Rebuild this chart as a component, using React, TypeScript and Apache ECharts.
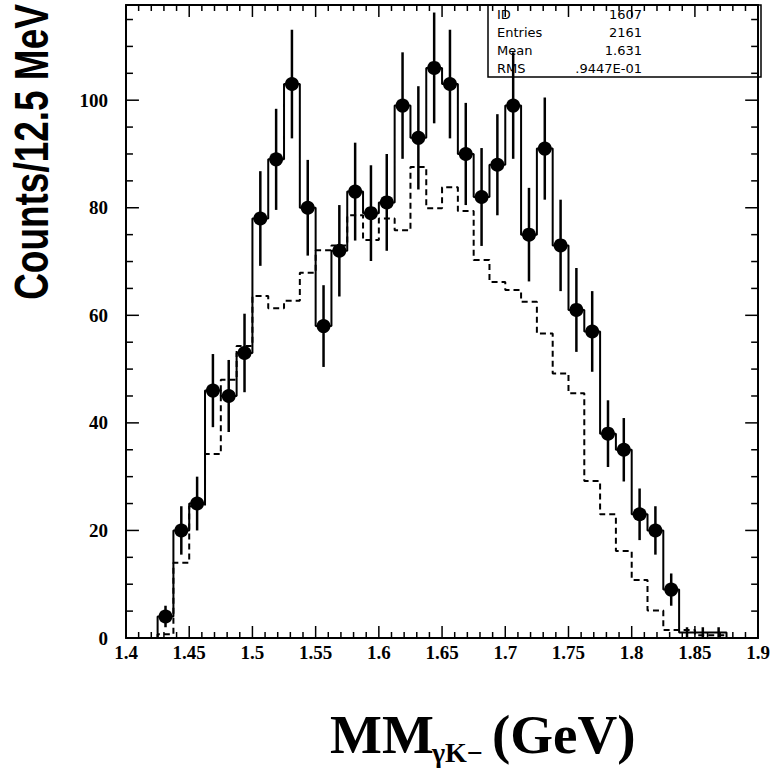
import React, { useEffect, useRef } from 'react';
import * as echarts from 'echarts';

// Histogram binning (GeV)
const BIN_START = 1.425;
const BIN_WIDTH = 0.0125;

// Data counts per 12.5 MeV bin (points with error bars, solid histogram)
const counts = [4, 20, 25, 46, 45, 53, 78, 89, 103, 80, 58, 72, 83, 79, 81, 99, 93, 106, 103, 90, 82, 88, 99, 75, 91, 73, 61, 57, 38, 35, 23, 20, 9, 1, 1, 1];
// Statistical errors of the counts
const errors = [2.0, 4.5, 5.0, 6.8, 6.7, 7.3, 8.8, 9.4, 10.1, 8.9, 7.6, 8.5, 9.1, 8.9, 9.0, 9.9, 9.6, 10.3, 10.1, 9.5, 9.1, 9.4, 9.9, 8.7, 9.5, 8.5, 7.8, 7.5, 6.2, 5.9, 4.8, 4.5, 3.0, 1.0, 1.0, 1.0];
// Dashed histogram (simulation)
const mcCounts = [0.7, 14, 24.5, 34.2, 48, 54.3, 63.6, 61.3, 62.7, 67.9, 72.1, 73, 78.6, 74, 78, 75.8, 87.6, 79.9, 83.8, 79.4, 70.3, 66.2, 64.7, 62.5, 56.6, 49.2, 45.5, 29.2, 23, 16.2, 10.8, 5.1, 1.5, 1.5, 0.5, 0.5];

// Axis ranges and tick spacing
const X_MIN = 1.4;
const X_MAX = 1.9;
const X_MAJOR = 0.05;
const X_MINOR_PER_MAJOR = 5;
const Y_MIN = 0;
const Y_MAX = 117.7;
const Y_MAJOR = 20;
const Y_MINOR_STEP = 5;

// Statistics box
const statLabels = ['ID', 'Entries', 'Mean', 'RMS'];
const statValues = ['1607', '2161', '1.631', '.9447E-01'];

const yTitle = 'Counts/12.5 MeV';
const xTitleMain = 'MM';
const xTitleSub = 'γK−';
const xTitleUnit = '(GeV)';

// layout (pixels)
const GRID_LEFT = 126;
const GRID_TOP = 5;
const GRID_W = 635;
const GRID_H = 633;
const X_TICK_MAJOR_PX = 12;
const X_TICK_MINOR_PX = 6;
const Y_TICK_MAJOR_PX = 13;
const Y_TICK_MINOR_PX = 7;

function stepPoints(vals: number[]): number[][] {
  const pts: number[][] = [[BIN_START, 0]];
  vals.forEach((v, i) => {
    const lo = BIN_START + i * BIN_WIDTH;
    pts.push([lo, v], [lo + BIN_WIDTH, v]);
  });
  pts.push([BIN_START + vals.length * BIN_WIDTH, 0]);
  return pts;
}

// inward tick segments expressed in axis units
const PX_PER_X = GRID_W / (X_MAX - X_MIN);
const PX_PER_Y = GRID_H / (Y_MAX - Y_MIN);

function xTickSegments(): number[][] {
  const out: number[][] = [];
  const nx = Math.round((X_MAX - X_MIN) / X_MAJOR) * X_MINOR_PER_MAJOR;
  for (let i = 0; i <= nx; i++) {
    const v = +(X_MIN + (i * X_MAJOR) / X_MINOR_PER_MAJOR).toFixed(4);
    const len = (i % X_MINOR_PER_MAJOR === 0 ? X_TICK_MAJOR_PX : X_TICK_MINOR_PX) / PX_PER_Y;
    out.push([v, Y_MIN, Y_MIN + len]);
    out.push([v, Y_MAX - len, Y_MAX]);
  }
  return out;
}

function yTickSegments(): number[][] {
  const out: number[][] = [];
  for (let v = Y_MIN; v < Y_MAX; v += Y_MINOR_STEP) {
    const len = (v % Y_MAJOR === 0 ? Y_TICK_MAJOR_PX : Y_TICK_MINOR_PX) / PX_PER_X;
    out.push([X_MIN, X_MIN + len, v]);
    out.push([X_MAX - len, X_MAX, v]);
  }
  return out;
}

const SERIF = '"Liberation Serif", "Times New Roman", serif';
const SANS = '"Liberation Sans", Arial, sans-serif';

export default function App() {
  const ref = useRef<HTMLDivElement>(null);

  useEffect(() => {
    document.body.style.margin = '0';
    if (!ref.current) return;
    const chart = echarts.init(ref.current, undefined, { renderer: 'svg' });

    const centers = counts.map((_, i) => BIN_START + (i + 0.5) * BIN_WIDTH);
    const errData = counts.map((c, i) => [centers[i], c - errors[i], c + errors[i]]);
    const pointData = counts
      .map((c, i) => [centers[i], c])
      .filter((p) => p[1] > 1);

    const xBase = {
      type: 'value',
      min: X_MIN,
      max: X_MAX,
      interval: X_MAJOR,
      axisLine: { show: true, onZero: false, lineStyle: { color: '#000', width: 2 } },
      axisTick: { show: false },
      minorTick: { show: false },
      splitLine: { show: false },
    };
    const yBase = {
      type: 'value',
      min: Y_MIN,
      max: Y_MAX,
      interval: Y_MAJOR,
      axisLine: { show: true, onZero: false, lineStyle: { color: '#000', width: 2 } },
      axisTick: { show: false },
      splitLine: { show: false },
    };

    const graphic: any[] = [
      {
        type: 'rect',
        z: 5,
        shape: { x: 488, y: 5, width: 273, height: 72 },
        style: { fill: 'none', stroke: '#000', lineWidth: 1.5 },
      },
    ];
    statLabels.forEach((l, i) => {
      const y = 14 + i * 18.3;
      graphic.push({
        type: 'text',
        x: 497,
        y,
        z: 10,
        style: { text: l, fontFamily: '"DejaVu Sans", sans-serif', fontSize: 13, fill: '#000', align: 'left', verticalAlign: 'middle' },
      });
      graphic.push({
        type: 'text',
        x: 642,
        y,
        z: 10,
        style: { text: statValues[i], fontFamily: '"DejaVu Sans", sans-serif', fontSize: 13, fill: '#000', align: 'right', verticalAlign: 'middle' },
      });
    });
    graphic.push(
      {
        type: 'text',
        x: 31,
        y: 152,
        rotation: Math.PI / 2,
        scaleX: 0.77,
        style: { text: yTitle, fontFamily: SANS, fontWeight: 'bold', fontSize: 48, fill: '#000', align: 'center', verticalAlign: 'middle' },
      },
      {
        type: 'text',
        x: 330,
        y: 734,
        style: { text: xTitleMain, fontFamily: SERIF, fontWeight: 'bold', fontSize: 55, fill: '#000', align: 'left', verticalAlign: 'middle' },
      },
      {
        type: 'text',
        x: 432,
        y: 752,
        style: { text: xTitleSub, fontFamily: SERIF, fontWeight: 'bold', fontSize: 28, fill: '#000', align: 'left', verticalAlign: 'middle' },
      },
      {
        type: 'text',
        x: 492,
        y: 734,
        style: { text: xTitleUnit, fontFamily: SERIF, fontWeight: 'bold', fontSize: 55, fill: '#000', align: 'left', verticalAlign: 'middle' },
      }
    );

    chart.setOption({
      animation: false,
      backgroundColor: '#fff',
      grid: { left: GRID_LEFT, top: GRID_TOP, width: GRID_W, height: GRID_H, show: false },
      xAxis: [
        {
          ...xBase,
          position: 'bottom',
          axisLabel: { show: true, fontFamily: SERIF, fontWeight: 'bold', fontSize: 19, color: '#000', margin: 5 },
        },
        { ...xBase, position: 'top', axisLabel: { show: false } },
      ],
      yAxis: [
        {
          ...yBase,
          position: 'left',
          axisLabel: { show: true, showMaxLabel: false, fontFamily: SERIF, fontWeight: 'bold', fontSize: 19, color: '#000', margin: 18 },
        },
        { ...yBase, position: 'right', axisLabel: { show: false } },
      ],
      graphic,
      series: [
        {
          name: 'X ticks',
          type: 'custom',
          xAxisIndex: 0,
          yAxisIndex: 0,
          data: xTickSegments(),
          encode: { x: 0, y: [1, 2] },
          renderItem: (params: any, api: any) => {
            const x = api.value(0);
            const p1 = api.coord([x, api.value(1)]);
            const p2 = api.coord([x, api.value(2)]);
            return {
              type: 'line',
              shape: { x1: p1[0], y1: p1[1], x2: p2[0], y2: p2[1] },
              style: { stroke: '#000', lineWidth: 1.5 },
            };
          },
          z: 5,
        },
        {
          name: 'Y ticks',
          type: 'custom',
          xAxisIndex: 0,
          yAxisIndex: 0,
          data: yTickSegments(),
          encode: { x: [0, 1], y: 2 },
          renderItem: (params: any, api: any) => {
            const y = api.value(2);
            const p1 = api.coord([api.value(0), y]);
            const p2 = api.coord([api.value(1), y]);
            return {
              type: 'line',
              shape: { x1: p1[0], y1: p1[1], x2: p2[0], y2: p2[1] },
              style: { stroke: '#000', lineWidth: 1.5 },
            };
          },
          z: 5,
        },
        {
          name: 'Simulation',
          type: 'line',
          xAxisIndex: 0,
          yAxisIndex: 0,
          data: stepPoints(mcCounts),
          showSymbol: false,
          symbol: 'none',
          lineStyle: { color: '#000', width: 2, type: [6, 4] },
          z: 3,
        },
        {
          name: 'Data histogram',
          type: 'line',
          xAxisIndex: 0,
          yAxisIndex: 0,
          data: stepPoints(counts),
          showSymbol: false,
          symbol: 'none',
          lineStyle: { color: '#000', width: 2 },
          z: 4,
        },
        {
          name: 'Errors',
          type: 'custom',
          xAxisIndex: 0,
          yAxisIndex: 0,
          data: errData,
          encode: { x: 0, y: [1, 2] },
          renderItem: (params: any, api: any) => {
            const x = api.value(0);
            const p1 = api.coord([x, api.value(1)]);
            const p2 = api.coord([x, api.value(2)]);
            return {
              type: 'line',
              shape: { x1: p1[0], y1: p1[1], x2: p2[0], y2: p2[1] },
              style: { stroke: '#000', lineWidth: 2.5 },
            };
          },
          z: 6,
        },
        {
          name: 'Data',
          type: 'scatter',
          xAxisIndex: 0,
          yAxisIndex: 0,
          data: pointData,
          symbol: 'circle',
          symbolSize: 14,
          itemStyle: { color: '#000', opacity: 1 },
          z: 7,
        },
      ],
    });

    return () => {
      chart.dispose();
    };
  }, []);

  return <div ref={ref} style={{ position: 'absolute', left: 0, top: 0, width: 773, height: 772 }} />;
}
